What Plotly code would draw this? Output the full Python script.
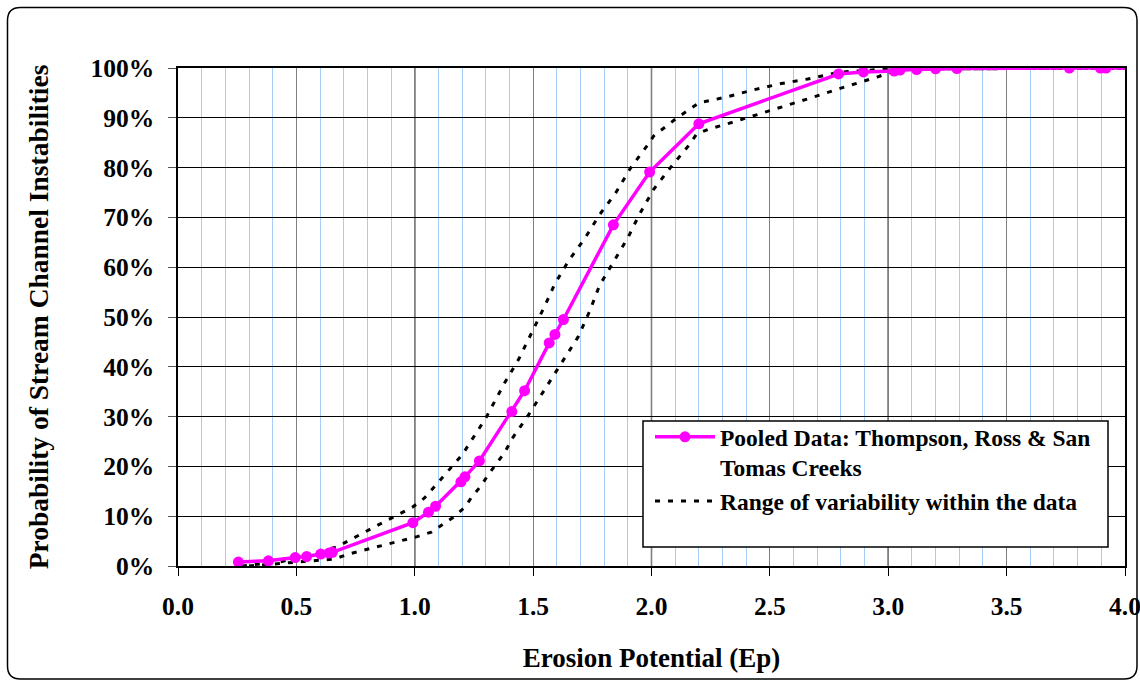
import plotly.graph_objects as go

# ---------------- data ----------------
ep_pooled = [0.255, 0.382, 0.495, 0.543, 0.603, 0.638, 0.652, 0.992, 1.058, 1.088,
             1.195, 1.212, 1.273, 1.410, 1.464, 1.568, 1.592, 1.628, 1.839, 1.992,
             2.200, 2.790, 2.895, 3.025, 3.050, 3.120, 3.200, 3.290, 3.765, 3.896,
             3.920, 4.200]
p_pooled = [0.8, 1.05, 1.7, 1.9, 2.4, 2.6, 2.75, 8.7, 10.8, 12.0,
            16.9, 17.9, 21.1, 31.0, 35.2, 44.8, 46.5, 49.5, 68.5, 79.1,
            88.8, 98.8, 99.2, 99.4, 99.6, 99.7, 99.85, 99.9, 100.0, 100.0,
            100.0, 100.0]

ep_upper = [0.27, 0.44, 0.55, 0.67, 0.78, 0.88, 0.99, 1.04, 1.12, 1.20, 1.30, 1.38,
            1.44, 1.50, 1.55, 1.59, 1.65, 1.72, 1.78, 1.85, 1.91, 1.98, 2.01, 2.10,
            2.20, 2.31, 2.43, 2.54, 2.66, 2.78, 2.83, 3.00, 4.20]
p_upper = [0.0, 0.9, 2.3, 3.8, 6.6, 9.1, 11.8, 13.6, 18.0, 22.3, 29.7, 36.8,
           41.6, 47.3, 52.3, 56.5, 61.3, 65.9, 70.5, 75.0, 79.8, 84.3, 86.4, 89.7,
           93.0, 94.1, 95.6, 96.8, 97.8, 99.0, 99.3, 99.8, 100.0]

ep_lower = [0.30, 0.55, 0.66, 0.72, 0.83, 0.95, 1.01, 1.07, 1.11, 1.16, 1.21, 1.24,
            1.28, 1.31, 1.38, 1.41, 1.48, 1.54, 1.61, 1.69, 1.74, 1.78, 1.84, 1.90,
            1.95, 2.01, 2.08, 2.16, 2.19, 2.24, 2.35, 2.46, 2.57, 2.68, 2.79, 2.91,
            2.96, 3.05, 4.20]
p_lower = [0.0, 1.0, 1.4, 2.4, 3.7, 5.2, 5.9, 6.8, 8.1, 9.7, 11.7, 13.8,
           16.1, 18.3, 22.8, 25.5, 30.3, 34.8, 39.8, 46.0, 51.3, 56.3, 61.1, 65.9,
           70.7, 75.7, 80.0, 84.6, 86.7, 87.7, 89.2, 90.8, 92.4, 94.1, 95.8, 97.5,
           98.3, 99.8, 100.0]

x_tick_vals = [0.0, 0.5, 1.0, 1.5, 2.0, 2.5, 3.0, 3.5, 4.0]
x_tick_text = ["0.0", "0.5", "1.0", "1.5", "2.0", "2.5", "3.0", "3.5", "4.0"]
y_tick_vals = [0, 10, 20, 30, 40, 50, 60, 70, 80, 90, 100]
y_tick_text = ["0%", "10%", "20%", "30%", "40%", "50%", "60%", "70%", "80%", "90%", "100%"]

name_pooled = "Pooled Data: Thompson, Ross & San<br>Tomas Creeks"
name_range = "Range of variability within the data"
x_title = "Erosion Potential (Ep)"
y_title = "Probability of Stream Channel Instabilities"

# ---------------- layout geometry ----------------
W, H = 1140, 681
ML, MR, MT, MB = 178, 15, 68, 115
PW, PH = W - ML - MR, H - MT - MB


def fx(px):
    return (px - ML) / PW


def fy(py):
    return (H - MB - py) / PH


FONT = "Liberation Serif"
MAGENTA = "#FF00FF"

fig = go.Figure()

fig.add_trace(go.Scatter(
    x=ep_upper, y=p_upper, mode="lines", name=name_range,
    legendgroup="range", legendrank=2,
    line=dict(color="black", width=3, dash="5px,8px"),
    hoverinfo="skip",
))
fig.add_trace(go.Scatter(
    x=ep_lower, y=p_lower, mode="lines", name=name_range,
    legendgroup="range", showlegend=False,
    line=dict(color="black", width=3, dash="5px,8px"),
    hoverinfo="skip",
))
fig.add_trace(go.Scatter(
    x=ep_pooled, y=p_pooled, mode="lines+markers", name=name_pooled,
    legendrank=1,
    line=dict(color=MAGENTA, width=3.5),
    marker=dict(color=MAGENTA, size=11, symbol="circle"),
))

shapes = []
# darker gridlines at whole-number Ep values
for v in x_tick_vals:
    if 0 < v < 4 and float(v).is_integer():
        shapes.append(dict(type="line", xref="x", yref="paper", x0=v, x1=v, y0=0, y1=1,
                           line=dict(color="black", width=1.3), layer="between"))

# legend box
shapes.append(dict(type="rect", xref="paper", yref="paper",
                   x0=fx(643), x1=fx(1108), y0=fy(547), y1=fy(421),
                   fillcolor="white", line=dict(color="black", width=1.5), layer="above"))

# rounded outer border
L, R, T, B, r = 7.5, 1137, 7.5, 679, 13
path = (f"M {fx(L + r)},{fy(T)} L {fx(R - r)},{fy(T)} Q {fx(R)},{fy(T)} {fx(R)},{fy(T + r)} "
        f"L {fx(R)},{fy(B - r)} Q {fx(R)},{fy(B)} {fx(R - r)},{fy(B)} "
        f"L {fx(L + r)},{fy(B)} Q {fx(L)},{fy(B)} {fx(L)},{fy(B - r)} "
        f"L {fx(L)},{fy(T + r)} Q {fx(L)},{fy(T)} {fx(L + r)},{fy(T)} Z")
shapes.append(dict(type="path", xref="paper", yref="paper", path=path,
                   line=dict(color="black", width=1.5), layer="above"))

fig.update_layout(
    width=W, height=H,
    margin=dict(l=ML, r=MR, t=MT, b=MB, pad=0, autoexpand=False),
    paper_bgcolor="white", plot_bgcolor="white",
    font=dict(family=FONT, color="black", size=25, weight="bold"),
    shapes=shapes,
    showlegend=True,
    legend=dict(
        x=fx(650), y=fy(415), xanchor="left", yanchor="top",
        bgcolor="rgba(0,0,0,0)", borderwidth=0,
        font=dict(family=FONT, size=23.5, color="black", weight="bold"),
        valign="top", tracegroupgap=0, itemwidth=60,
    ),
    xaxis=dict(
        range=[0, 4], tickmode="array", tickvals=x_tick_vals, ticktext=x_tick_text,
        showgrid=True, gridcolor="#808080", gridwidth=1.2,
        minor=dict(dtick=0.1, showgrid=True, gridcolor="#A3CDF7", gridwidth=1, ticks=""),
        showline=True, linecolor="black", linewidth=1.5, mirror=True,
        ticks="outside", ticklen=8, tickcolor="black", tickwidth=1.2,
        ticklabelstandoff=9, ticklabeloverflow="allow", automargin=False,
        tickfont=dict(family=FONT, size=25.5, weight="bold"),
        title=dict(text=x_title, standoff=28, font=dict(family=FONT, size=27, weight="bold")),
        zeroline=False, fixedrange=True,
    ),
    yaxis=dict(
        range=[0, 100], tickmode="array", tickvals=y_tick_vals, ticktext=y_tick_text,
        showgrid=True, gridcolor="black", gridwidth=1.2,
        showline=True, linecolor="black", linewidth=1.5, mirror=True,
        ticks="outside", ticklen=8, tickcolor="#555555", tickwidth=1.2,
        ticklabelstandoff=9, ticklabeloverflow="allow", automargin=False,
        tickfont=dict(family=FONT, size=25.5, weight="bold"),
        title=dict(text=y_title, standoff=34, font=dict(family=FONT, size=27.5, weight="bold")),
        zeroline=False, fixedrange=True,
    ),
)

fig.write_html("out.html", config={"displayModeBar": False},
               post_script="document.body.style.margin='0px';")
